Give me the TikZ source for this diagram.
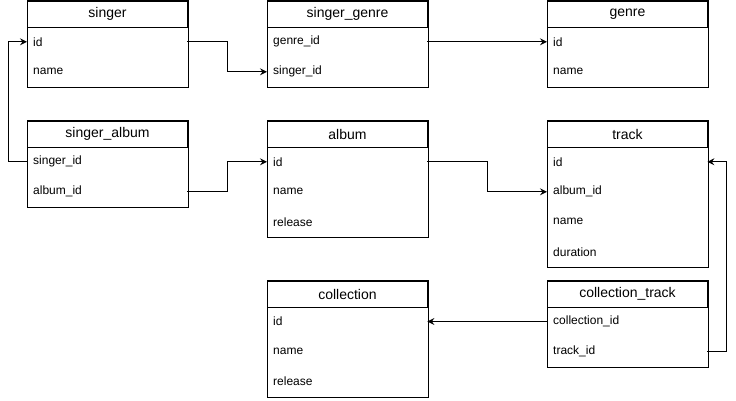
\documentclass[tikz,border=0pt]{standalone}
\usepackage{fontspec}
\setmainfont{Liberation Sans}
\usetikzlibrary{arrows.meta,calc}
\tikzset{
  hdr/.style={draw, line width=1pt, minimum width=160pt, minimum height=26pt, inner sep=0pt, anchor=north west, font=\fontsize{14}{16}\selectfont},
  rowcell/.style={text width=148pt, align=left, inner xsep=6pt, inner ysep=0pt, minimum height=30pt, anchor=north west, font=\fontsize{12}{14}\selectfont},
  tblbox/.style={draw, line width=1pt},
  conn/.style={draw, line width=1pt, -{Stealth[length=7pt,width=7pt,inset=2.5pt]}}
}
\newcommand\ertable[6]{% name, x, y, title, rows, n
  \node[hdr] (#1) at (#2,#3) {#4};
  \foreach \r [count=\i] in {#5} {
    \node[rowcell] (#1-\i) at ($(#1.south west)+(0,{(\i-1)*30-1.2})$) {\r};
  }
  \draw[tblbox] (#1.north west) rectangle ($(#1.south east)+(0,{#6*30})$);
}
\begin{document}
\begin{tikzpicture}[x=1pt,y=-1pt]
\useasboundingbox (0,0) rectangle (736,400);
\ertable{singer}{27}{0.8}{singer}{id,name}{2}
\ertable{sgenre}{267}{0.8}{singer\_genre}{genre\_id,singer\_id}{2}
\ertable{genre}{547}{0.8}{genre}{id,name}{2}
\ertable{salbum}{27}{120.8}{singer\_album}{singer\_id,album\_id}{2}
\ertable{album}{267}{120.8}{album}{id,name,release}{3}
\ertable{track}{547}{120.8}{track}{id,album\_id,name,duration}{4}
\ertable{collection}{267}{280.5}{collection}{id,name,release}{3}
\ertable{ctrack}{547}{280.5}{collection\_track}{collection\_id,track\_id}{2}

\draw[conn] (salbum-1.west) -- ++(-19,0) |- (singer-1.west);
\draw[conn] (singer-1.east) -- ++(40,0) |- (sgenre-2.west);
\draw[conn] (sgenre-1.east) -- (genre-1.west);
\draw[conn] (salbum-2.east) -- ++(40,0) |- (album-1.west);
\draw[conn] (album-1.east) -- ++(60,0) |- (track-2.west);
\draw[conn] (ctrack-2.east) -- ++(19,0) |- (track-1.east);
\draw[conn] (ctrack-1.west) -- (collection-1.east);
\end{tikzpicture}
\end{document}
